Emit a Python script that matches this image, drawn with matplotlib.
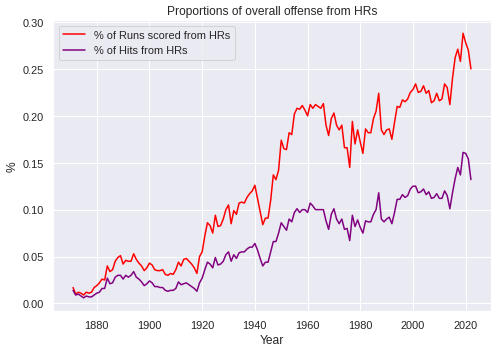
import matplotlib
matplotlib.use('Agg')
import matplotlib.pyplot as plt
import seaborn as sns
import numpy as np

# yearly values
years = np.arange(1871, 2023)

runs_hr = [
    0.017, 0.010, 0.012, 0.011, 0.009, 0.012, 0.011, 0.012, 0.017, 0.019,  # 1871-1880
    0.022, 0.026, 0.025, 0.040, 0.034, 0.036, 0.045, 0.049, 0.051, 0.042,  # 1881-1890
    0.046, 0.045, 0.045, 0.053, 0.047, 0.043, 0.040, 0.035, 0.038, 0.043,  # 1891-1900
    0.041, 0.036, 0.035, 0.035, 0.036, 0.031, 0.030, 0.032, 0.031, 0.036,  # 1901-1910
    0.044, 0.040, 0.047, 0.048, 0.045, 0.042, 0.038, 0.032, 0.050, 0.055,  # 1911-1920
    0.072, 0.086, 0.083, 0.075, 0.094, 0.082, 0.083, 0.090, 0.100, 0.105,  # 1921-1930
    0.085, 0.099, 0.095, 0.107, 0.108, 0.107, 0.113, 0.117, 0.120, 0.126,  # 1931-1940
    0.112, 0.098, 0.084, 0.091, 0.091, 0.110, 0.137, 0.132, 0.142, 0.174,  # 1941-1950
    0.165, 0.164, 0.182, 0.180, 0.202, 0.208, 0.207, 0.211, 0.206, 0.200,  # 1951-1960
    0.212, 0.208, 0.212, 0.210, 0.208, 0.213, 0.190, 0.179, 0.197, 0.203,  # 1961-1970
    0.190, 0.185, 0.190, 0.166, 0.166, 0.145, 0.194, 0.170, 0.185, 0.172,  # 1971-1980
    0.160, 0.186, 0.182, 0.182, 0.197, 0.205, 0.224, 0.185, 0.180, 0.185,  # 1981-1990
    0.186, 0.175, 0.193, 0.210, 0.209, 0.217, 0.215, 0.218, 0.225, 0.228,  # 1991-2000
    0.234, 0.225, 0.226, 0.232, 0.224, 0.227, 0.214, 0.216, 0.224, 0.216,  # 2001-2010
    0.218, 0.234, 0.230, 0.212, 0.240, 0.262, 0.271, 0.258, 0.288, 0.278,  # 2011-2020
    0.270, 0.250,                                                          # 2021-2022
]

hits_hr = [
    0.014, 0.009, 0.010, 0.008, 0.006, 0.008, 0.007, 0.007, 0.009, 0.011,
    0.012, 0.016, 0.016, 0.027, 0.021, 0.022, 0.028, 0.030, 0.030, 0.026,
    0.030, 0.028, 0.030, 0.034, 0.028, 0.026, 0.023, 0.019, 0.021, 0.024,
    0.022, 0.018, 0.018, 0.017, 0.017, 0.014, 0.013, 0.014, 0.014, 0.016,
    0.023, 0.020, 0.021, 0.022, 0.020, 0.018, 0.016, 0.013, 0.022, 0.027,
    0.036, 0.044, 0.042, 0.038, 0.049, 0.041, 0.042, 0.045, 0.052, 0.055,
    0.045, 0.052, 0.048, 0.054, 0.055, 0.055, 0.058, 0.060, 0.060, 0.064,
    0.057, 0.048, 0.040, 0.044, 0.044, 0.055, 0.066, 0.066, 0.075, 0.086,
    0.082, 0.078, 0.090, 0.087, 0.097, 0.101, 0.097, 0.100, 0.100, 0.097,
    0.107, 0.104, 0.100, 0.100, 0.100, 0.100, 0.088, 0.079, 0.095, 0.101,
    0.090, 0.085, 0.090, 0.079, 0.080, 0.067, 0.094, 0.082, 0.089, 0.081,
    0.075, 0.088, 0.087, 0.087, 0.095, 0.100, 0.118, 0.090, 0.087, 0.090,
    0.092, 0.085, 0.097, 0.111, 0.111, 0.116, 0.113, 0.115, 0.122, 0.125,
    0.125, 0.118, 0.119, 0.122, 0.116, 0.119, 0.112, 0.113, 0.117, 0.112,
    0.112, 0.120, 0.115, 0.101, 0.118, 0.133, 0.145, 0.137, 0.161, 0.160,
    0.154, 0.132,
]

sns.set_theme()
plt.rcParams['font.family'] = ['Liberation Sans', 'DejaVu Sans']

fig, ax = plt.subplots(figsize=(6.9, 4.9), dpi=72)
fig.subplots_adjust(left=0.107, right=0.988, bottom=0.116, top=0.941)

ax.plot(years, runs_hr, color='red', label='% of Runs scored from HRs')
ax.plot(years, hits_hr, color='purple', label='% of Hits from HRs')

ax.set_title('Proportions of overall offense from HRs')
ax.set_xlabel('Year')
ax.set_ylabel('%')
ax.legend(loc='upper left')

plt.savefig('out.png', dpi=72)
